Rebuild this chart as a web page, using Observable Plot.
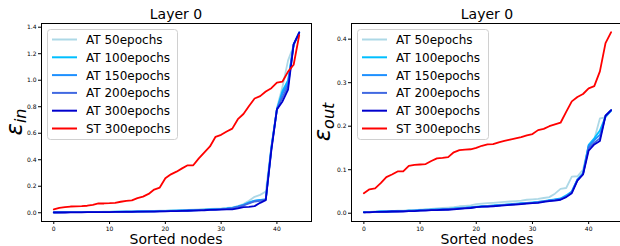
<!DOCTYPE html>
<html><head><meta charset="utf-8">
<script src="https://cdn.jsdelivr.net/npm/d3@7"></script>
<script src="https://cdn.jsdelivr.net/npm/@observablehq/plot@0.6"></script>
<style>
html,body{margin:0;padding:0;background:#fff}
body{width:620px;height:246px;overflow:hidden;position:relative;font-family:"DejaVu Sans",sans-serif}
.panel{position:absolute;top:0;height:246px}
.panel svg.plot{position:absolute;left:0;top:0}
.title{position:absolute;top:7px;font-size:14px;line-height:14px;color:#000;transform:translateX(-50%);white-space:nowrap}
.xlabel{position:absolute;top:232px;font-size:14px;line-height:14px;color:#000;transform:translateX(-50%);white-space:nowrap}
.ylabel{position:absolute;font-size:23px;line-height:23px;color:#000;transform:translate(-50%,-50%) rotate(-90deg);white-space:nowrap;font-style:italic}
.ylabel sub{font-size:16px;vertical-align:-4px}
.legend{position:absolute;left:0;top:0;overflow:visible}
</style>
</head><body>
<script>
// Series names and colours
const seriesNames = ["AT 50epochs","AT 100epochs","AT 150epochs","AT 200epochs","AT 300epochs","ST 300epochs"];
const seriesColors = ["#add8e6","#00bfff","#1e90ff","#4169e1","#0000cd","#ff0000"];
const xTicks = [0,10,20,30,40];
const yTicksIn = [0.0,0.2,0.4,0.6,0.8,1.0,1.2,1.4];
const yTicksOut = [0.0,0.1,0.2,0.3,0.4];
const panelTitles = ["Layer 0","Layer 0"];
const xLabel = "Sorted nodes";

// epsilon_in (left panel), 45 sorted nodes
const AT50_in = [0.004,0.004,0.005,0.005,0.005,0.006,0.006,0.007,0.007,0.008,
 0.008,0.009,0.009,0.010,0.011,0.011,0.012,0.013,0.014,0.015,
 0.016,0.017,0.018,0.020,0.021,0.023,0.025,0.027,0.029,0.031,
 0.033,0.036,0.04,0.05,0.065,0.09,0.12,0.135,0.16,0.5,
 0.79,0.95,1.15,1.26,1.36];
const AT100_in = [0.003,0.004,0.004,0.004,0.005,0.005,0.005,0.006,0.006,0.007,
 0.007,0.008,0.008,0.009,0.009,0.010,0.010,0.011,0.012,0.013,
 0.014,0.015,0.016,0.017,0.018,0.020,0.021,0.023,0.025,0.027,
 0.029,0.032,0.037,0.048,0.06,0.078,0.092,0.097,0.1,0.49,
 0.78,0.92,1.0,1.27,1.36];
const AT150_in = [0.003,0.003,0.004,0.004,0.004,0.005,0.005,0.005,0.006,0.006,
 0.007,0.007,0.008,0.008,0.009,0.009,0.010,0.010,0.011,0.012,
 0.013,0.014,0.015,0.016,0.017,0.019,0.020,0.022,0.024,0.026,
 0.028,0.031,0.035,0.045,0.058,0.075,0.09,0.095,0.1,0.49,
 0.78,0.9,0.98,1.27,1.36];
const AT200_in = [0.003,0.003,0.003,0.004,0.004,0.004,0.005,0.005,0.005,0.006,
 0.006,0.007,0.007,0.008,0.008,0.009,0.009,0.010,0.010,0.011,
 0.012,0.013,0.014,0.015,0.016,0.018,0.019,0.021,0.023,0.025,
 0.027,0.030,0.035,0.045,0.055,0.07,0.085,0.09,0.1,0.48,
 0.78,0.87,0.96,1.27,1.36];
const AT300_in = [0.002,0.002,0.002,0.003,0.003,0.003,0.004,0.004,0.004,0.005,
 0.005,0.006,0.006,0.007,0.007,0.008,0.008,0.009,0.009,0.010,
 0.011,0.012,0.013,0.014,0.015,0.016,0.018,0.019,0.021,0.022,
 0.024,0.025,0.026,0.033,0.042,0.045,0.05,0.075,0.095,0.47,
 0.78,0.84,0.93,1.27,1.36];
const ST300_in = [0.025,0.037,0.042,0.047,0.048,0.05,0.053,0.06,0.07,0.07,
 0.072,0.075,0.083,0.09,0.093,0.11,0.122,0.142,0.175,0.19,
 0.26,0.29,0.31,0.335,0.358,0.358,0.41,0.455,0.5,0.573,
 0.588,0.613,0.635,0.706,0.745,0.805,0.862,0.88,0.915,0.94,
 0.982,0.99,1.065,1.117,1.34];

// epsilon_out (right panel)
const AT50_out = [0.003,0.003,0.004,0.004,0.005,0.005,0.006,0.006,0.007,0.007,
 0.008,0.009,0.010,0.011,0.012,0.013,0.014,0.016,0.017,0.018,
 0.021,0.022,0.023,0.024,0.025,0.026,0.027,0.028,0.029,0.031,
 0.032,0.033,0.035,0.037,0.045,0.056,0.058,0.084,0.085,0.1,
 0.155,0.17,0.218,0.22,0.236];
const AT100_out = [0.003,0.003,0.003,0.004,0.004,0.005,0.005,0.005,0.006,0.006,
 0.007,0.008,0.008,0.009,0.009,0.010,0.011,0.012,0.013,0.014,
 0.015,0.016,0.017,0.018,0.019,0.020,0.021,0.022,0.023,0.024,
 0.025,0.026,0.028,0.030,0.032,0.034,0.041,0.05,0.078,0.092,
 0.157,0.172,0.19,0.222,0.236];
const AT150_out = [0.002,0.003,0.003,0.004,0.004,0.004,0.005,0.005,0.006,0.006,
 0.007,0.007,0.008,0.008,0.009,0.010,0.010,0.011,0.012,0.013,
 0.014,0.015,0.016,0.017,0.018,0.019,0.020,0.021,0.022,0.023,
 0.024,0.026,0.027,0.029,0.031,0.033,0.039,0.049,0.077,0.091,
 0.155,0.168,0.18,0.223,0.236];
const AT200_out = [0.002,0.003,0.003,0.003,0.004,0.004,0.004,0.005,0.005,0.006,
 0.006,0.007,0.007,0.008,0.008,0.009,0.010,0.011,0.012,0.013,
 0.014,0.015,0.016,0.017,0.018,0.019,0.020,0.021,0.022,0.023,
 0.024,0.025,0.027,0.029,0.030,0.032,0.038,0.048,0.076,0.09,
 0.15,0.162,0.172,0.224,0.237];
const AT300_out = [0.002,0.002,0.003,0.003,0.003,0.004,0.004,0.004,0.005,0.005,
 0.006,0.006,0.007,0.007,0.008,0.008,0.009,0.010,0.011,0.012,
 0.014,0.015,0.015,0.016,0.017,0.018,0.019,0.020,0.021,0.022,
 0.023,0.024,0.026,0.028,0.029,0.031,0.037,0.046,0.075,0.089,
 0.144,0.158,0.166,0.224,0.237];
const ST300_out = [0.046,0.055,0.057,0.069,0.083,0.089,0.096,0.096,0.109,0.111,
 0.112,0.113,0.12,0.126,0.127,0.129,0.14,0.145,0.146,0.147,
 0.15,0.155,0.158,0.159,0.163,0.166,0.169,0.172,0.175,0.179,
 0.182,0.191,0.194,0.2,0.204,0.208,0.233,0.257,0.267,0.274,
 0.287,0.292,0.326,0.391,0.416];

const panels = [
  {left:0, width:312, marginRight:1, series:[AT50_in,AT100_in,AT150_in,AT200_in,AT300_in,ST300_in],
   yDomain:[-0.066,1.428], yTicks:yTicksIn, sub:"in", title:panelTitles[0], ylabX:17, legendX:47, legendW:130},
  {left:310, width:313, marginRight:0, series:[AT50_out,AT100_out,AT150_out,AT200_out,AT300_out,ST300_out],
   yDomain:[-0.019,0.436], yTicks:yTicksOut, sub:"out", title:panelTitles[1], ylabX:15, legendX:47, legendW:131}
];

panels.forEach(p => {
  const div = document.createElement("div");
  div.className = "panel";
  div.style.left = p.left + "px";
  div.style.width = p.width + "px";
  document.body.appendChild(div);

  const marks = p.series.map((vals, k) =>
    Plot.line(vals.map((v, i) => ({i, v})), {x:"i", y:"v", stroke: seriesColors[k], strokeWidth: 1.8, strokeLinejoin:"round"})
  );
  marks.push(Plot.frame({stroke:"#000", strokeWidth:1}));

  const svg = Plot.plot({
    width: p.width, height: 246,
    marginLeft: 41, marginRight: p.marginRight, marginTop: 23, marginBottom: 25,
    style: {fontSize:"6px", fontFamily:"DejaVu Sans, sans-serif", background:"none", color:"#000", overflow:"visible", maxWidth:"none"},
    x: {domain:[-2.2,46.2], ticks:xTicks, tickSize:3, tickPadding:2, label:null, tickFormat:d=>String(d)},
    y: {domain:p.yDomain, ticks:p.yTicks, tickSize:3, tickPadding:2, label:null, tickFormat:d=>d.toFixed(1)},
    marks
  });
  svg.classList.add("plot");
  div.appendChild(svg);

  const frameL = 41, frameR = p.width - p.marginRight;
  const cx = (frameL + frameR) / 2;

  const t = document.createElement("div");
  t.className = "title"; t.textContent = p.title; t.style.left = cx + "px";
  div.appendChild(t);

  const xl = document.createElement("div");
  xl.className = "xlabel"; xl.textContent = xLabel; xl.style.left = cx + "px";
  div.appendChild(xl);

  const yl = document.createElement("div");
  yl.className = "ylabel";
  yl.style.left = p.ylabX + "px"; yl.style.top = "122px";
  yl.innerHTML = "ε<sub>" + p.sub + "</sub>";
  div.appendChild(yl);

  // legend
  const ns = "http://www.w3.org/2000/svg";
  const lg = document.createElementNS(ns, "svg");
  lg.setAttribute("class","legend");
  lg.setAttribute("width", p.width); lg.setAttribute("height", 246);
  const box = document.createElementNS(ns, "rect");
  box.setAttribute("x", p.legendX + 0.5); box.setAttribute("y", 29.5);
  box.setAttribute("width", p.legendW); box.setAttribute("height", 110);
  box.setAttribute("rx", 3);
  box.setAttribute("fill", "rgba(255,255,255,0.8)"); box.setAttribute("stroke", "#d0d0d0");
  lg.appendChild(box);
  seriesNames.forEach((name, k) => {
    const y = 39.5 + 17.8 * k;
    const ln = document.createElementNS(ns, "line");
    ln.setAttribute("x1", p.legendX + 5); ln.setAttribute("x2", p.legendX + 30);
    ln.setAttribute("y1", y); ln.setAttribute("y2", y);
    ln.setAttribute("stroke", seriesColors[k]); ln.setAttribute("stroke-width", 2);
    lg.appendChild(ln);
    const tx = document.createElementNS(ns, "text");
    tx.setAttribute("x", p.legendX + 39); tx.setAttribute("y", y + 4.4);
    tx.setAttribute("font-size", "12px"); tx.setAttribute("font-family", "DejaVu Sans, sans-serif");
    tx.textContent = name;
    lg.appendChild(tx);
  });
  div.appendChild(lg);
});
</script>
</body></html>
